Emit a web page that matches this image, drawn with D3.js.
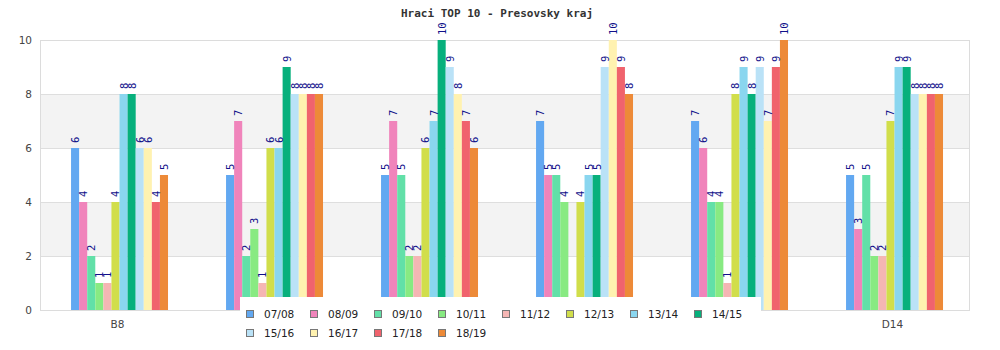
<!DOCTYPE html>
<html><head><meta charset="utf-8">
<script src="https://cdn.jsdelivr.net/npm/d3@7"></script>
<style>body{margin:0;background:#fff}svg{display:block}</style>
</head><body>
<svg id="c" width="1000" height="350"></svg>
<script>
const title = "Hraci TOP 10 - Presovsky kraj";
const categories = ["B8", "C10", "C12", "D10", "D12", "D14"];
const seasons = ["07/08","08/09","09/10","10/11","11/12","12/13","13/14","14/15","15/16","16/17","17/18","18/19"];
const colors = ["#62a8f1","#f084bb","#62e0a8","#88ea82","#f5b6b4","#d1de4b","#8ad6ef","#07b07c","#bae2f7","#fff2b0","#f0636d","#ed8a38"];
// values[season][category]
const v0708 = [6,5,5,7,7,5];
const v0809 = [4,7,7,5,6,3];
const v0910 = [2,2,5,5,4,5];
const v1011 = [1,3,2,4,4,2];
const v1112 = [1,1,2,0,1,2];
const v1213 = [4,6,6,4,8,7];
const v1314 = [8,6,7,5,9,9];
const v1415 = [8,9,10,5,8,9];
const v1516 = [6,8,9,9,9,8];
const v1617 = [6,8,8,10,7,8];
const v1718 = [4,8,7,9,9,8];
const v1819 = [5,8,6,8,10,8];
const series = [v0708,v0809,v0910,v1011,v1112,v1213,v1314,v1415,v1516,v1617,v1718,v1819];
const yTicks = [0,2,4,6,8,10];

const svg = d3.select("#c");
const L=40,R=970,T=40,B=310;
const LG = {x:240, y:297, w:521, h:48};
const x0 = d3.scaleBand().domain(categories).range([L,R]);
const x1 = d3.scaleBand().domain(seasons).range([0,x0.bandwidth()]).paddingInner(0).paddingOuter(3.59).align(0.535);
const y = d3.scaleLinear().domain([0,10]).range([B,T]);

svg.append("rect").attr("x",L).attr("y",T).attr("width",R-L).attr("height",B-T).attr("fill","#fff");
for (let i=0;i<yTicks.length-1;i++){
  if (i%2===1) svg.append("rect").attr("x",L).attr("width",R-L)
    .attr("y",y(yTicks[i+1])).attr("height",y(yTicks[i])-y(yTicks[i+1])).attr("fill","#f3f3f3");
}
svg.append("g").selectAll("line").data(yTicks).join("line")
  .attr("x1",L).attr("x2",R).attr("y1",d=>y(d)+0.5).attr("y2",d=>y(d)+0.5)
  .attr("stroke","#dedede");
svg.append("rect").attr("x",L+0.5).attr("y",T+0.5).attr("width",R-L-1).attr("height",B-T)
  .attr("fill","none").attr("stroke","#dcdcdc");

// bars
const data = [];
series.forEach((s,si)=>s.forEach((val,ci)=>data.push({s:seasons[si],si,c:categories[ci],v:val})));
svg.append("g").selectAll("rect").data(data.filter(d=>d.v>0)).join("rect")
  .attr("x",d=>x0(d.c)+x1(d.s)).attr("width",x1.bandwidth())
  .attr("y",d=>y(d.v)).attr("height",d=>y(0)-y(d.v))
  .attr("fill",d=>colors[d.si]);
svg.append("g").selectAll("text").data(data.filter(d=>d.v>0)).join("text")
  .attr("transform",d=>`translate(${x0(d.c)+x1(d.s)+x1.bandwidth()/2+4},${y(d.v)-5}) rotate(-90)`)
  .attr("font-family","DejaVu Sans Mono").attr("font-size",10.5).attr("fill","#10108a")
  .text(d=>d.v);

// y axis labels
svg.append("g").selectAll("text").data(yTicks).join("text")
  .attr("x",32).attr("y",d=>y(d)+4).attr("text-anchor","end")
  .attr("font-family","DejaVu Sans").attr("font-size",10.5).attr("fill","#444").text(d=>d);
// x axis labels (those beneath the legend box are covered in the original)
const cx = d=>x0(d)+x0.bandwidth()/2;
svg.append("g").selectAll("text").data(categories.filter(d=>cx(d)<LG.x||cx(d)>LG.x+LG.w)).join("text")
  .attr("x",cx).attr("y",328).attr("text-anchor","middle")
  .attr("font-family","DejaVu Sans").attr("font-size",10.5).attr("fill","#444").text(d=>d);

// title
svg.append("text").attr("x",497).attr("y",17).attr("text-anchor","middle")
  .attr("font-family","DejaVu Sans Mono").attr("font-weight","bold").attr("font-size",11)
  .attr("fill","#333").text(title);

// legend
const lg = svg.append("g");
lg.append("rect").attr("x",LG.x).attr("y",LG.y).attr("width",LG.w).attr("height",LG.h).attr("fill","#fff");
const items = lg.selectAll("g").data(seasons).join("g")
  .attr("transform",(d,i)=>`translate(${250+(i%8)*64},${314+Math.floor(i/8)*19})`);
items.append("rect").attr("x",-3.5).attr("y",-3.5).attr("width",7).attr("height",7)
  .attr("fill",(d,i)=>colors[i]).attr("stroke","#777");
items.append("text").attr("x",14).attr("y",4).attr("font-family","DejaVu Sans")
  .attr("font-size",10.5).attr("fill","#222").text(d=>d);
</script>
</body></html>
